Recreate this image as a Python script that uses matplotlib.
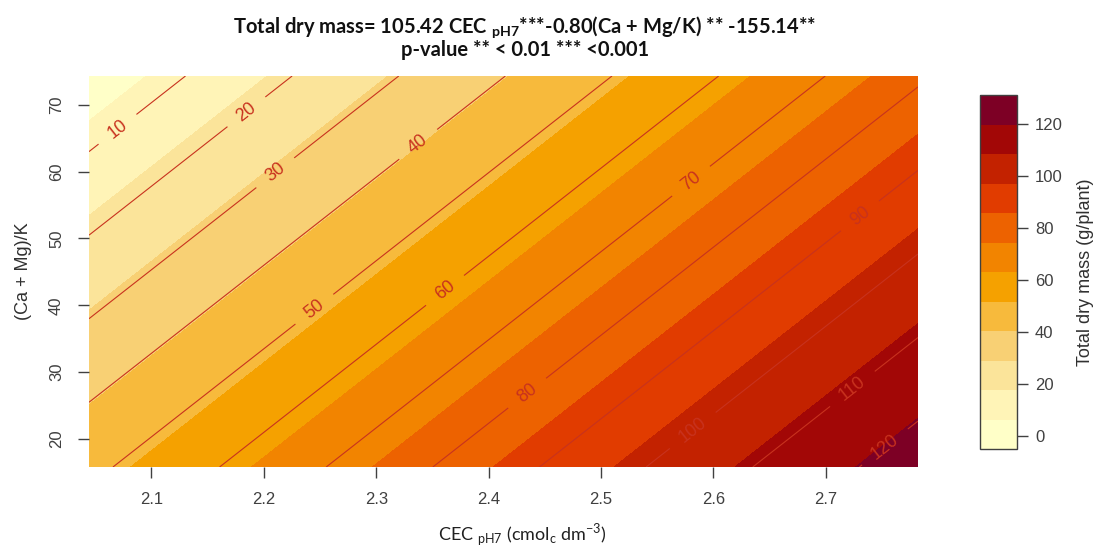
import numpy as np
import matplotlib
matplotlib.use("Agg")
import matplotlib.pyplot as plt

# ---- data (model from the title) ----
coef_cec = 105.42
coef_ratio = -0.80
intercept = -155.14
cec_range = [2.0445, 2.782]
ratio_range = [15.8, 74.3]
x_ticks = [2.1, 2.2, 2.3, 2.4, 2.5, 2.6, 2.7]
y_ticks = [20, 30, 40, 50, 60, 70]
cbar_ticks = [0, 20, 40, 60, 80, 100, 120]
fill_min, fill_max, n_bands = -5.0, 131.0, 12
line_levels = [10, 20, 30, 40, 50, 60, 70, 80, 90, 100, 110, 120]


def hcl_colors(n, h1=5, h2=85, c1=75, c2=40, l1=25, l2=99, p1=1.6, p2=1.3, cmax=180):
    i = np.linspace(1, 0, n)
    j = 1 / (1 + abs(cmax - c1) / abs(cmax - c2))
    ip = i ** p1
    C = np.where(ip <= j, c2 - (c2 - cmax) * ip / j, cmax - (cmax - c1) * (ip - j) / (1 - j))
    H = np.deg2rad(h2 - (h2 - h1) * i)
    L = l2 - (l2 - l1) * i ** p2
    U = C * np.cos(H)
    V = C * np.sin(H)
    WY = 100.0
    Wu, Wv = 0.1978398, 0.4683363
    Y = WY * np.where(L > 7.999592, ((L + 16) / 116) ** 3, L / 903.3)
    u = U / (13 * L) + Wu
    v = V / (13 * L) + Wv
    X = 9.0 * Y * u / (4 * v)
    Z = -X / 3 - 5 * Y + 3 * Y / v

    def g(t):
        t = np.asarray(t)
        return np.where(t > 0.00304, 1.055 * np.power(np.clip(t, 1e-12, None), 1 / 2.4) - 0.055, 12.92 * t)

    R = g((3.240479 * X - 1.537150 * Y - 0.498535 * Z) / WY)
    G = g((-0.969256 * X + 1.875992 * Y + 0.041556 * Z) / WY)
    B = g((0.055648 * X - 0.204043 * Y + 1.057311 * Z) / WY)
    rgb = np.clip(np.stack([R, G, B], axis=1), 0, 1)
    return [tuple(c) for c in rgb[::-1]]


colors = hcl_colors(n_bands)
fill_levels = np.linspace(fill_min, fill_max, n_bands + 1)

xg = np.linspace(cec_range[0], cec_range[1], 300)
yg = np.linspace(ratio_range[0], ratio_range[1], 300)
XX, YY = np.meshgrid(xg, yg)
ZZ = coef_cec * XX + coef_ratio * YY + intercept

plt.rcParams['font.family'] = ['Liberation Sans', 'DejaVu Sans']
plt.rcParams['mathtext.fontset'] = 'custom'
plt.rcParams['mathtext.rm'] = 'Lato'
plt.rcParams['mathtext.bf'] = 'Lato:bold'

W, H = 1097, 547
fig = plt.figure(figsize=(W / 100, H / 100), dpi=100)
ax = fig.add_axes([89 / W, 1 - 467 / H, (918 - 89) / W, (467 - 76) / H])

cf = ax.contourf(XX, YY, ZZ, levels=fill_levels, colors=colors)
line_col = '#c8321e'
cs = ax.contour(XX, YY, ZZ, levels=line_levels, colors=line_col, linewidths=0.8)

label_spots = [(2.070, 66.3), (2.174, 71.2), (2.201, 61.8), (2.327, 66.3),
               (2.259, 36.4), (2.373, 39.7), (2.579, 58.8), (2.435, 26.7),
               (2.726, 54.3), (2.588, 19.9), (2.725, 27.2), (2.754, 18.5)]
ax.clabel(cs, inline=True, fontsize=13, colors=line_col, fmt='%d',
          manual=label_spots, inline_spacing=14)

ax.set_xlim(cec_range)
ax.set_ylim(ratio_range)
for s in ax.spines.values():
    s.set_visible(False)
tick_col = '#404040'
ax.set_xticks(x_ticks)
ax.set_xticklabels([f'{t:.1f}' for t in x_ticks])
ax.set_yticks(y_ticks)
ax.set_yticklabels([str(t) for t in y_ticks], rotation=90, va='center')
ax.tick_params(axis='both', direction='out', length=8, width=1, colors=tick_col,
               labelsize=12, labelcolor=tick_col, pad=10)

ax.set_ylabel('(Ca + Mg)/K', fontsize=13, color='#303030', labelpad=12)
fig.text(522 / W, 1 - 535 / H,
         r'CEC $_{\mathrm{pH7}}$ (cmol$_{\mathrm{c}}$ dm$^{\mathrm{-3}}$)',
         family='Lato', fontsize=13, color='#202020', ha='center', va='center')

fig.text(525 / W, 1 - 27 / H,
         r'Total dry mass= 105.42 CEC $_{\mathbf{pH7}}$***-0.80(Ca + Mg/K) ** -155.14**',
         family='Lato', fontweight='bold', fontsize=14.5, color='#111111', ha='center', va='center')
fig.text(525 / W, 1 - 50 / H, 'p-value ** < 0.01 *** <0.001',
         family='Lato', fontweight='bold', fontsize=14.5, color='#111111', ha='center', va='center')

cax = fig.add_axes([980 / W, 1 - 449 / H, (1017 - 980) / W, (449 - 95) / H])
cb = fig.colorbar(cf, cax=cax, ticks=cbar_ticks)
cb.outline.set_edgecolor('#404040')
cb.outline.set_linewidth(1.0)
cax.tick_params(direction='out', length=8, width=1, colors=tick_col, labelsize=12,
                labelcolor=tick_col, pad=5)
cb.set_label('Total dry mass (g/plant)', fontsize=13, color='#303030', labelpad=10)

fig.savefig('out.png', dpi=100)
